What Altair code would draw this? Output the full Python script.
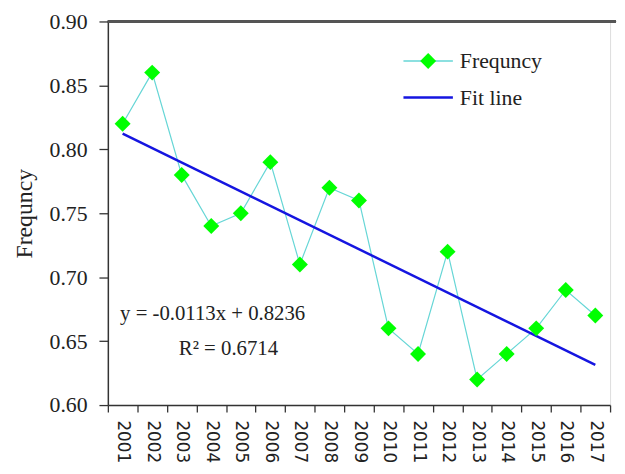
import altair as alt
import pandas as pd

years = [str(y) for y in range(2001, 2018)]
freq = [0.82, 0.86, 0.78, 0.74, 0.75, 0.79, 0.71, 0.77, 0.76, 0.66,
        0.64, 0.72, 0.62, 0.64, 0.66, 0.69, 0.67]
fit_years = ["2001", "2017"]
fit_vals = [0.8123, 0.6315]
y_ticks = [0.60, 0.65, 0.70, 0.75, 0.80, 0.85, 0.90]

W, H = 508, 388
SERIF = "Liberation Serif"

df = pd.DataFrame({"year": years, "freq": freq})
df_fit = pd.DataFrame({"year": fit_years, "freq": fit_vals})

xscale = alt.Scale(type="band", paddingInner=0, paddingOuter=0, domain=years)
yscale = alt.Scale(domain=[0.6, 0.9], nice=False, zero=False)

xenc = alt.X("year:O", scale=xscale, title=None,
             axis=alt.Axis(labelAngle=90, labelFont="DejaVu Sans", labelFontSize=17,
                           labelColor="#222", tickBand="extent", tickSize=7,
                           labelPadding=8, domainColor="#333", tickColor="#333",
                           domainWidth=1.5, tickWidth=1.3, grid=False))
yenc = alt.Y("freq:Q", scale=yscale, title="Frequncy",
             axis=alt.Axis(values=y_ticks, format=".2f", labelFont=SERIF, labelFontSize=22,
                           labelColor="#222", titleFont=SERIF, titleFontSize=24,
                           titleFontWeight="normal", titleColor="#222", titlePadding=13,
                           tickSize=9, labelPadding=12, domainColor="#333",
                           tickColor="#333", domainWidth=1.5, tickWidth=1.3, grid=False))

line = alt.Chart(df).mark_line(color="#66d6d6", strokeWidth=1.2).encode(x=xenc, y=yenc)
pts = alt.Chart(df).mark_point(shape="diamond", filled=True, size=260, color="#00ff00",
                               opacity=1).encode(x=xenc, y=yenc)
fit = alt.Chart(df_fit).mark_line(color="#1515e0", strokeWidth=2.5).encode(x=xenc, y=yenc)

top = alt.Chart(df).mark_rule(color="#555", strokeWidth=1.5).encode(
    y=alt.datum(0.9, type="quantitative", scale=yscale), x=alt.value(0), x2=alt.value(W + 6))

base = alt.Chart(pd.DataFrame({"a": [0]}))
leg1 = base.mark_rule(color="#66d6d6", strokeWidth=1.5).encode(
    x=alt.value(299), x2=alt.value(349), y=alt.value(40))
leg1p = base.mark_point(shape="diamond", filled=True, size=260, color="#00ff00", opacity=1).encode(
    x=alt.value(324), y=alt.value(40))
leg1t = base.mark_text(text="Frequncy", font=SERIF, fontSize=22, align="left",
                       baseline="middle", color="#222").encode(x=alt.value(356), y=alt.value(40))
leg2 = base.mark_rule(color="#1515e0", strokeWidth=2.5).encode(
    x=alt.value(299), x2=alt.value(349), y=alt.value(77))
leg2t = base.mark_text(text="Fit line", font=SERIF, fontSize=22, align="left",
                       baseline="middle", color="#222").encode(x=alt.value(356), y=alt.value(77))

eq1 = base.mark_text(text="y = -0.0113x + 0.8236", font=SERIF, fontSize=21, align="center",
                     baseline="middle", color="#222").encode(x=alt.value(106), y=alt.value(296))
eq2 = base.mark_text(text="R² = 0.6714", font=SERIF, fontSize=21, align="center",
                     baseline="middle", color="#222").encode(x=alt.value(122), y=alt.value(331))

chart = alt.layer(top, line, fit, pts, leg1, leg1p, leg1t, leg2, leg2t, eq1, eq2).properties(
    width=W, height=H, padding={"left": 4, "top": 0, "right": 0, "bottom": 0}
).configure_view(stroke=None).configure(background="white")

chart.save("out.html", embed_options={"renderer": "svg", "actions": False})
